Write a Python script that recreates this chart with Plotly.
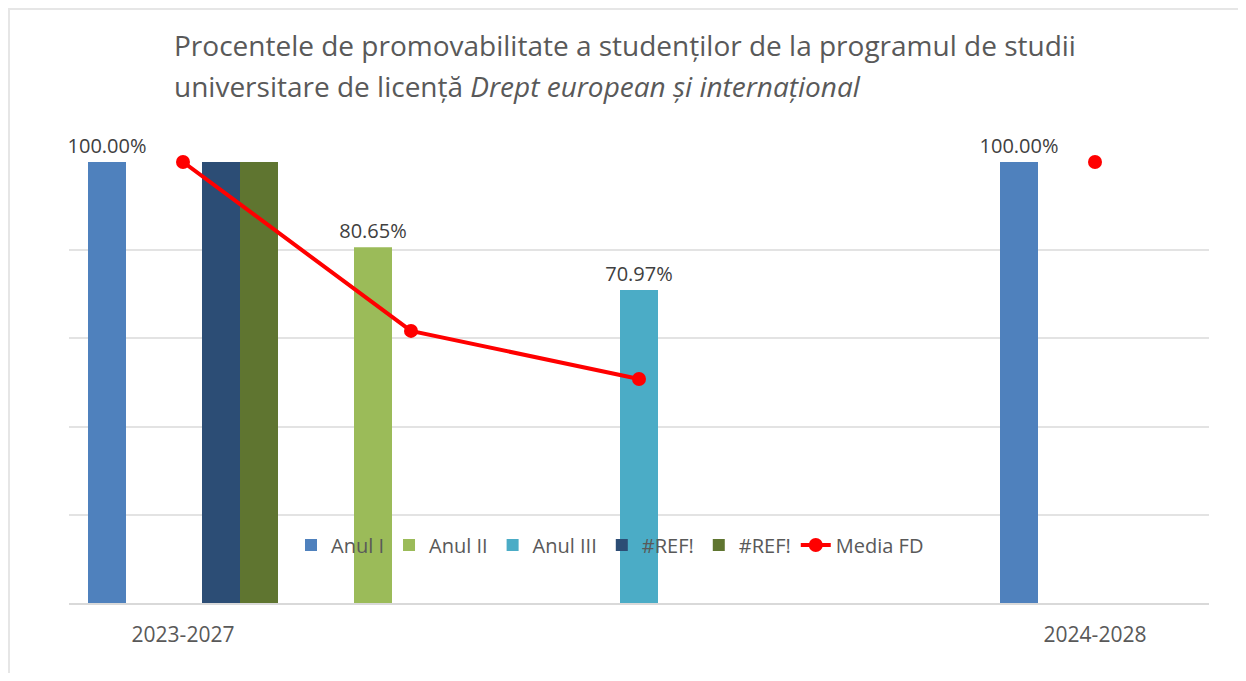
import plotly.graph_objects as go

categories = ["2023-2027", "", "", "", "2024-2028"]
anul_i = [100.00, None, None, None, 100.00]
anul_ii = [None, 80.65, None, None, None]
anul_iii = [None, None, 70.97, None, None]
ref_1 = [100.00, None, None, None, None]
ref_2 = [100.00, None, None, None, None]
media_fd = [100.00, 61.7, 50.8, None, 100.00]

xs = list(range(len(categories)))
FONT = "Open Sans, Liberation Sans, sans-serif"

def lbl(vals):
    return [f"{v:.2f}%" if v is not None else "" for v in vals]

fig = go.Figure()
bar_specs = [
    ("Anul I", anul_i, "#4F81BD", True),
    ("Anul II", anul_ii, "#9BBB59", True),
    ("Anul III", anul_iii, "#4BACC6", True),
    ("#REF!", ref_1, "#2C4D75", False),
    ("#REF!", ref_2, "#5F7530", False),
]
for name, vals, col, show_lbl in bar_specs:
    fig.add_trace(go.Bar(
        x=xs, y=vals, name=name, marker_color=col, marker_line_width=0,
        text=lbl(vals) if show_lbl else None,
        textposition="outside", cliponaxis=False, constraintext="none",
        textfont=dict(family=FONT, size=20, color="#404040"),
    ))

fig.add_trace(go.Scatter(
    x=xs, y=media_fd, name="Media FD", mode="lines+markers",
    line=dict(color="#FF0000", width=4), marker=dict(color="#FF0000", size=14),
    connectgaps=False, cliponaxis=False,
))

OFF = 8  # page body margin
L, R, T, B = 69 - OFF, 1209 - OFF, 162 - OFF, 603 - OFF
W, H = 1246 - 2 * OFF, 681 - 2 * OFF
pw, ph = R - L, B - T

def px(x):
    return (x - OFF - L) / pw

def py(y):
    return (B - (y - OFF)) / ph

fig.update_layout(
    width=W, height=H,
    margin=dict(l=L, r=W - R, t=T, b=H - B, pad=0),
    paper_bgcolor="white", plot_bgcolor="white",
    barmode="group", bargap=38 / 228, bargroupgap=0,
    font=dict(family=FONT, color="#595959"),
    showlegend=True,
    legend=dict(orientation="h", x=px(610), xanchor="center", y=py(545), yanchor="middle",
                bgcolor="rgba(0,0,0,0)", font=dict(size=20, color="#595959"),
                traceorder="normal"),
    xaxis=dict(range=[-0.5, 4.5], tickvals=[0, 4], ticktext=[categories[0], categories[4]],
               showgrid=False, zeroline=False, showline=True, linecolor="#D9D9D9", linewidth=2,
               ticks="outside", ticklen=12, tickcolor="rgba(0,0,0,0)",
               tickfont=dict(size=21, color="#595959"), fixedrange=True),
    yaxis=dict(range=[0, 100], dtick=20, showgrid=True, gridcolor="#E3E3E3", gridwidth=2,
               showticklabels=False, zeroline=False, ticks=""),
)

fig.add_annotation(x=px(172), y=py(45), xref="paper", yref="paper", xanchor="left", yanchor="middle",
                   text="Procentele de promovabilitate a studenților de la programul de studii",
                   showarrow=False, font=dict(size=28, color="#595959", family=FONT))
fig.add_annotation(x=px(172), y=py(86), xref="paper", yref="paper", xanchor="left", yanchor="middle",
                   text="universitare de licență <i>Drept european și internațional</i>",
                   showarrow=False, font=dict(size=28, color="#595959", family=FONT))

fig.add_shape(type="rect", xref="paper", yref="paper",
              x0=px(9), x1=px(1300), y0=py(750), y1=py(9),
              line=dict(color="#E6E6E6", width=2), fillcolor="rgba(0,0,0,0)", layer="below")

fig.write_html("out.html")
